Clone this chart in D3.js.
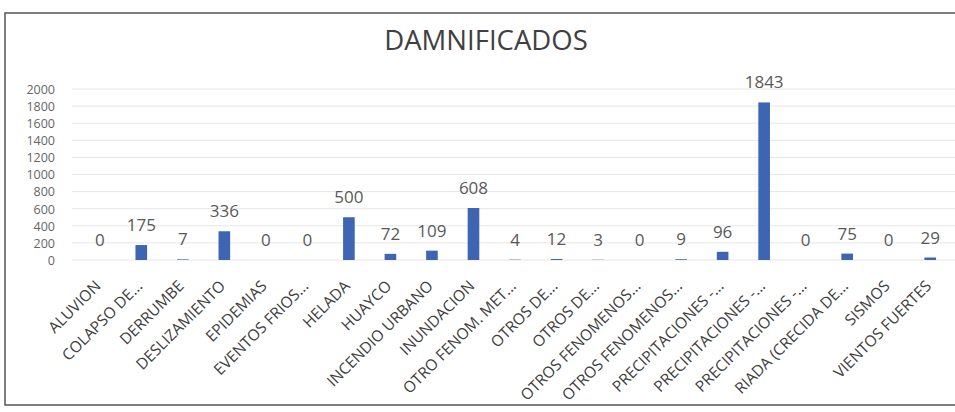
<!DOCTYPE html>
<html>
<head>
<meta charset="utf-8">
<script src="https://cdn.jsdelivr.net/npm/d3@7"></script>
<style>
  body { margin: 0; background: #fff; }
  svg { font-family: "Open Sans", "Liberation Sans", sans-serif; }
</style>
</head>
<body>
<svg id="chart" width="955" height="412"></svg>
<script>
// categories and values
var categories = ["ALUVION", "COLAPSO DE...", "DERRUMBE", "DESLIZAMIENTO", "EPIDEMIAS",
    "EVENTOS FRIOS...", "HELADA", "HUAYCO", "INCENDIO URBANO", "INUNDACION",
    "OTRO FENOM. MET...", "OTROS DE...", "OTROS DE...", "OTROS FENOMENOS...",
    "OTROS FENOMENOS...", "PRECIPITACIONES -...", "PRECIPITACIONES -...",
    "PRECIPITACIONES -...", "RIADA (CRECIDA DE...", "SISMOS", "VIENTOS FUERTES"];
var values = [0, 175, 7, 336, 0, 0, 500, 72, 109, 608, 4, 12, 3, 0, 9, 96, 1843, 0, 75, 0, 29];
var yTicks = [0, 200, 400, 600, 800, 1000, 1200, 1400, 1600, 1800, 2000];

var svg = d3.select("#chart");

// frame of the scanned chart
svg.append("rect")
    .attr("x", 5).attr("y", 13)
    .attr("width", 960).attr("height", 392)
    .attr("fill", "none")
    .attr("stroke", "#555")
    .attr("stroke-width", 1.5);

svg.append("text")
    .attr("x", 486).attr("y", 50)
    .attr("text-anchor", "middle")
    .attr("font-size", 27.5)
    .attr("fill", "#404040")
    .text("DAMNIFICADOS");

// x band uses index so duplicate labels stay separate
var x = d3.scaleBand()
    .domain(d3.range(categories.length))
    .range([79, 951])
    .paddingInner(0.72)
    .paddingOuter(0.36);

var y = d3.scaleLinear()
    .domain([0, 2000])
    .range([260, 89]);

// gridlines
svg.append("g")
    .selectAll("line")
    .data(yTicks)
    .join("line")
    .attr("x1", 72).attr("x2", 955)
    .attr("y1", d => y(d)).attr("y2", d => y(d))
    .attr("stroke", "#e6e6e6")
    .attr("stroke-width", 1);

// y axis labels
var yAxis = d3.axisLeft(y).tickValues(yTicks).tickSize(0).tickPadding(0).tickFormat(d3.format("d"));
var gY = svg.append("g")
    .attr("transform", "translate(55,0)")
    .call(yAxis);
gY.select(".domain").remove();
gY.selectAll("text")
    .attr("font-size", 12.5)
    .attr("font-family", "Open Sans, sans-serif")
    .attr("fill", "#666")
    .attr("dy", "0.35em");

// bars
svg.append("g")
    .selectAll("rect")
    .data(values)
    .join("rect")
    .attr("x", (d, i) => x(i))
    .attr("width", x.bandwidth())
    .attr("y", d => y(d))
    .attr("height", d => y(0) - y(d))
    .attr("fill", "#3d65b2");

// value labels
svg.append("g")
    .selectAll("text")
    .data(values)
    .join("text")
    .attr("x", (d, i) => x(i) + x.bandwidth() / 2)
    .attr("y", d => y(d) - 14)
    .attr("text-anchor", "middle")
    .attr("font-size", 17)
    .attr("fill", "#595959")
    .text(d => d);

// x axis labels, rotated
var xAxis = d3.axisBottom(x).tickSize(0).tickPadding(0).tickFormat(i => categories[i]);
var gX = svg.append("g")
    .attr("transform", "translate(0,268)")
    .call(xAxis);
gX.select(".domain").remove();
gX.selectAll("text")
    .attr("font-size", 15.5)
    .attr("font-family", "Open Sans, sans-serif")
    .attr("fill", "#404040")
    .attr("text-anchor", "end")
    .attr("y", 0)
    .attr("dy", 0)
    .attr("transform", "translate(2,19) rotate(-45)");
</script>
</body>
</html>
